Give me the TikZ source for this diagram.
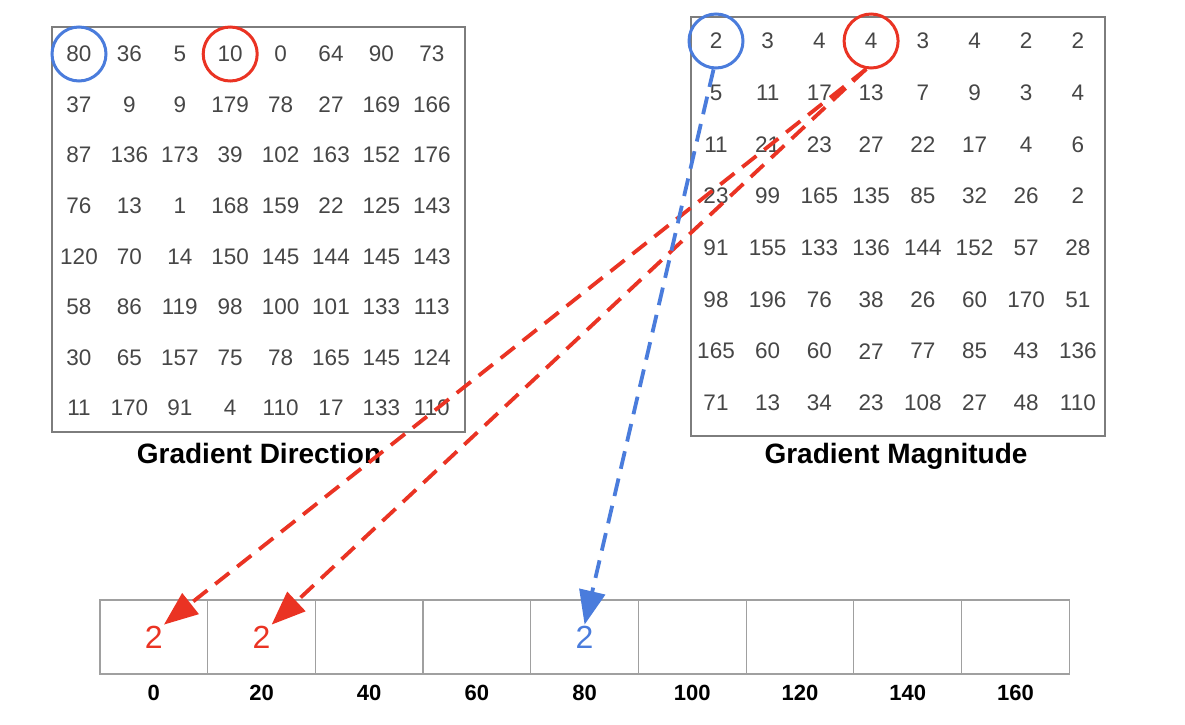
\documentclass[tikz,border=0pt]{standalone}
\usepackage{fontspec}
\setmainfont{Liberation Sans}
\usepackage{xcolor}
\usetikzlibrary{arrows.meta}

\definecolor{histred}{RGB}{234,51,35}
\definecolor{histblue}{RGB}{74,124,220}
\definecolor{numgray}{RGB}{70,70,70}
\definecolor{boxgray}{RGB}{125,125,125}
\definecolor{bingray}{RGB}{160,160,160}

\tikzset{
  num/.style={text=numgray, inner sep=1pt, font=\fontsize{22.5}{22.5}\selectfont},
  caption/.style={anchor=base, font=\bfseries\fontsize{28}{28}\selectfont},
  frame/.style={draw=boxgray, line width=1.5pt, minimum width=413pt, minimum height=405pt},
  ring/.style={circle, draw=#1, line width=3pt, minimum size=54pt, inner sep=0pt},
  bin/.style={draw=bingray, line width=1.2pt, minimum width=107.7pt, minimum height=74pt, inner sep=0pt},
  binlabel/.style={anchor=base, font=\bfseries\fontsize{22}{22}\selectfont},
  binval/.style={inner sep=1pt, font=\fontsize{32}{32}\selectfont},
  vote/.style={line width=3.8pt, dash pattern=on 18pt off 10pt, -{Triangle[length=34pt,width=26pt]}}
}

\begin{document}
\begin{tikzpicture}[x=1pt, y=-1pt]
  \useasboundingbox (0,0) rectangle (1185,724);

  % gradient direction
  \node[frame] (dir-box) at (258.5,229.5) {};
  \foreach \row [count=\r] in {{80,36,5,10,0,64,90,73},{37,9,9,179,78,27,169,166},
      {87,136,173,39,102,163,152,176},{76,13,1,168,159,22,125,143},
      {120,70,14,150,145,144,145,143},{58,86,119,98,100,101,133,113},
      {30,65,157,75,78,165,145,124},{11,170,91,4,110,17,133,110}}
    \foreach \v [count=\c] in \row
      \node[num] (dir-\r-\c) at ({79+50.4*(\c-1)},{54+50.6*(\r-1)}) {\v};
  \node[caption] at (259,463) {Gradient Direction};

  % gradient magnitude
  \node[frame, minimum width=414pt, minimum height=419pt] (mag-box) at (898,226.5) {};
  \foreach \row [count=\r] in {{2,3,4,4,3,4,2,2},{5,11,17,13,7,9,3,4},
      {11,21,23,27,22,17,4,6},{23,99,165,135,85,32,26,2},
      {91,155,133,136,144,152,57,28},{98,196,76,38,26,60,170,51},
      {165,60,60,27,77,85,43,136},{71,13,34,23,108,27,48,110}}
    \foreach \v [count=\c] in \row
      \node[num] (mag-\r-\c) at ({716+51.7*(\c-1)},{41+51.7*(\r-1)}) {\v};
  \node[caption] at (896,463) {Gradient Magnitude};

  % picked pixels
  \node[ring=histblue] (dir-blue) at (dir-1-1) {};
  \node[ring=histred] (dir-red) at (dir-1-4) {};
  \node[ring=histblue] (mag-blue) at (mag-1-1) {};
  \node[ring=histred] (mag-red) at (mag-1-4) {};

  % histogram bins
  \foreach \lab [count=\i] in {0,20,...,160} {
    \node[bin] (bin-\i) at ({153.8+107.7*(\i-1)},637) {};
    \node[binlabel] at ([yshift=-26pt]bin-\i.south) {\lab};
  }
  \node[binval, text=histred] (val-1) at (bin-1) {2};
  \node[binval, text=histred] (val-2) at (bin-2) {2};
  \node[binval, text=histblue] (val-5) at (bin-5) {2};

  % votes
  \draw[vote, histred] (mag-red.-100) -- (val-1.north east);
  \draw[vote, histred] (mag-red.-100) -- (val-2.north east);
  \draw[vote, histblue] (mag-blue.-95) -- (val-5.north);
\end{tikzpicture}
\end{document}
